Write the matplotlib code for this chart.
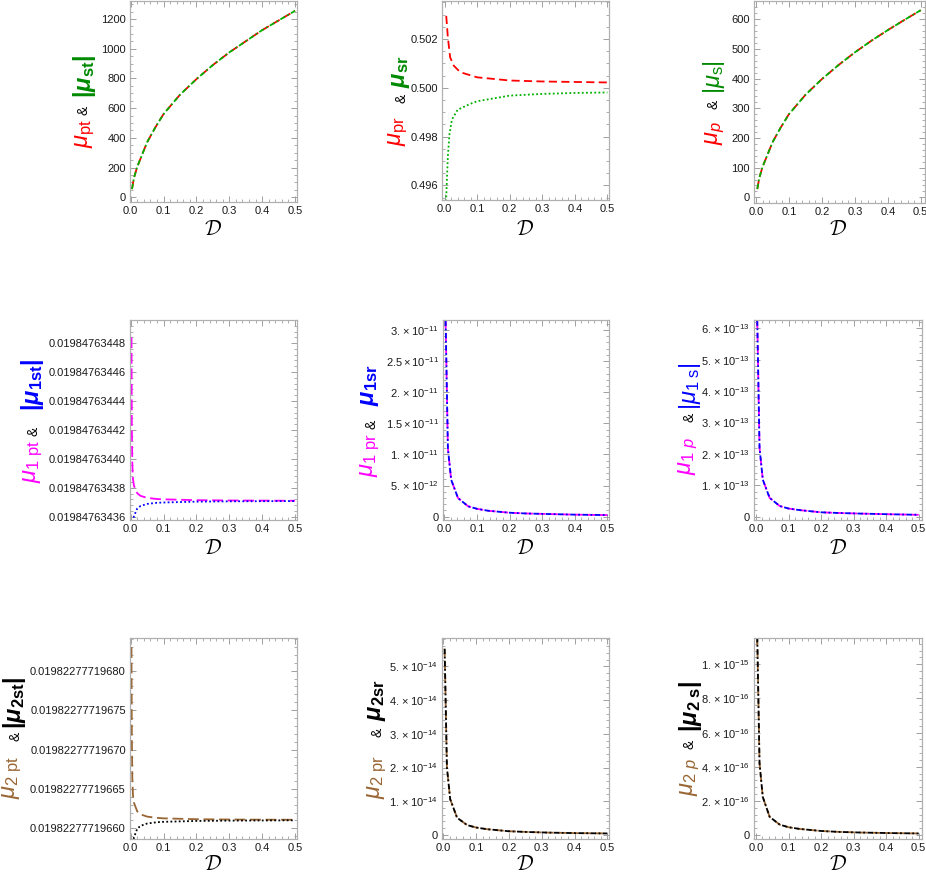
import matplotlib
matplotlib.use('Agg')
import matplotlib.pyplot as plt
from matplotlib.ticker import AutoMinorLocator, FixedLocator, FixedFormatter

plt.rcParams['font.family'] = ['Liberation Sans', 'DejaVu Sans']
plt.rcParams['mathtext.fontset'] = 'custom'
plt.rcParams['mathtext.rm'] = 'Liberation Sans'
plt.rcParams['mathtext.it'] = 'Liberation Sans:italic'
plt.rcParams['mathtext.bf'] = 'Liberation Sans:bold'
plt.rcParams['mathtext.bfit'] = 'Liberation Sans:italic:bold'

# ---------------- data ----------------
# Row 1
x_r1 = [0.004, 0.01, 0.02, 0.03, 0.05, 0.075, 0.1, 0.15, 0.2, 0.25, 0.3, 0.35, 0.4, 0.45, 0.5]
mu_pt = [55, 130, 205, 260, 370, 470, 560, 690, 795, 890, 975, 1050, 1125, 1190, 1255]
mu_st = [55, 130, 205, 260, 370, 470, 560, 690, 795, 890, 975, 1050, 1125, 1190, 1255]
mu_p = [28, 65, 103, 130, 185, 235, 280, 345, 398, 445, 488, 527, 563, 597, 630]
mu_s = [28, 65, 103, 130, 185, 235, 280, 345, 398, 445, 488, 527, 563, 597, 630]

x_pr = [0.005, 0.01, 0.017, 0.028, 0.048, 0.1, 0.2, 0.3, 0.4, 0.5]
mu_pr = [0.50295, 0.50207, 0.50125, 0.50091, 0.50064, 0.50043, 0.50030, 0.50026, 0.50024, 0.50022]
x_sr = [0.004, 0.005, 0.007, 0.01, 0.015, 0.0225, 0.04, 0.08, 0.1, 0.2, 0.3, 0.4, 0.5]
mu_sr = [0.4950, 0.4955, 0.4962, 0.4972, 0.4981, 0.4987, 0.4991, 0.49935, 0.49945, 0.49968,
         0.49975, 0.49979, 0.49981]

# Row 2 / row 3 left panels: offsets from a base value
base_1t = 0.019847634            # values = base + off * 1e-11
x_1pt = [0.0025, 0.0035, 0.005, 0.007, 0.01, 0.02, 0.03, 0.05, 0.08, 0.1, 0.2, 0.3, 0.4, 0.5]
off_1pt = [448.4, 442.3, 439.7, 438.6, 438.14, 437.62, 437.44, 437.30, 437.22, 437.20,
           437.14, 437.12, 437.11, 437.10]
x_1st = [0.004, 0.007, 0.01, 0.02, 0.03, 0.05, 0.08, 0.1, 0.2, 0.3, 0.4, 0.5]
off_1st = [434.5, 435.6, 436.04, 436.56, 436.74, 436.88, 436.96, 436.98, 437.04, 437.06,
           437.07, 437.08]
ticks_1t = [436, 438, 440, 442, 444, 446, 448]
labels_1t = ['0.01984763436', '0.01984763438', '0.01984763440', '0.01984763442',
             '0.01984763444', '0.01984763446', '0.01984763448']

base_2t = 0.019822777196         # values = base + off * 1e-14
x_2pt = [0.0025, 0.0035, 0.005, 0.007, 0.01, 0.02, 0.03, 0.05, 0.08, 0.1, 0.2, 0.3, 0.4, 0.5]
off_2pt = [683.0, 672.0, 666.5, 664.2, 663.25, 662.15, 661.78, 661.49, 661.33, 661.27,
           661.16, 661.12, 661.10, 661.09]
x_2st = [0.004, 0.007, 0.01, 0.02, 0.03, 0.05, 0.08, 0.1, 0.2, 0.3, 0.4, 0.5]
off_2st = [655.5, 657.9, 658.85, 659.95, 660.32, 660.61, 660.78, 660.83, 660.94, 660.98,
           661.00, 661.02]
ticks_2t = [660, 665, 670, 675, 680]
labels_2t = ['0.01982277719660', '0.01982277719665', '0.01982277719670',
             '0.01982277719675', '0.01982277719680']

# decaying panels
x_dec = [0.004, 0.011, 0.021, 0.042, 0.073, 0.1, 0.134, 0.2, 0.25, 0.318, 0.4, 0.5]
mu_1pr = [31.5e-12, 11.0e-12, 5.95e-12, 3.0e-12, 1.67e-12, 1.27e-12, 0.96e-12, 0.64e-12,
          0.52e-12, 0.43e-12, 0.33e-12, 0.26e-12]
mu_1sr = list(mu_1pr)
mu_1p = [6.25e-13, 2.19e-13, 1.18e-13, 0.60e-13, 0.34e-13, 0.26e-13, 0.21e-13, 0.14e-13,
         0.12e-13, 0.10e-13, 0.08e-13, 0.06e-13]
mu_1s = list(mu_1p)
mu_2pr = [5.52e-14, 2.0e-14, 1.06e-14, 0.51e-14, 0.29e-14, 0.22e-14, 0.17e-14, 0.11e-14,
          0.09e-14, 0.07e-14, 0.055e-14, 0.045e-14]
mu_2sr = list(mu_2pr)
mu_2p = [11.6e-16, 4.2e-16, 2.23e-16, 1.07e-16, 0.61e-16, 0.46e-16, 0.36e-16, 0.24e-16,
         0.19e-16, 0.15e-16, 0.12e-16, 0.095e-16]
mu_2s = list(mu_2p)

xticks = [0.0, 0.1, 0.2, 0.3, 0.4, 0.5]
xticklabels = ['0.0', '0.1', '0.2', '0.3', '0.4', '0.5']

RED = '#ff0000'
GREEN_L = '#00b000'
GREEN_T = '#008a00'
MAG = '#ff00ff'
BLUE = '#0000ff'
BROWN = '#996633'
BLACK = '#000000'

W, H = 926, 875
fig = plt.figure(figsize=(W / 100, H / 100), dpi=100)


def add_ax(l, r, t, b):
    return fig.add_axes([l / W, 1 - b / H, (r - l) / W, (b - t) / H])


def style(ax, xlim, ylim, yticks, ylabels, yminor):
    ax.set_xlim(*xlim)
    ax.set_ylim(*ylim)
    ax.xaxis.set_major_locator(FixedLocator(xticks))
    ax.xaxis.set_major_formatter(FixedFormatter(xticklabels))
    ax.xaxis.set_minor_locator(AutoMinorLocator(5))
    ax.yaxis.set_major_locator(FixedLocator(yticks))
    ax.yaxis.set_major_formatter(FixedFormatter(ylabels))
    ax.yaxis.set_minor_locator(AutoMinorLocator(yminor))
    ax.tick_params(which='both', direction='in', top=True, right=True,
                   color='#a0a0a0', labelsize=8, labelcolor='#1a1a1a', pad=3)
    ax.tick_params(which='major', length=4, width=0.7)
    ax.tick_params(which='minor', length=2, width=0.6)
    for s in ax.spines.values():
        s.set_color('#b0b0b0')
        s.set_linewidth(0.9)


def xlab(x, y):
    fig.text(x / W, 1 - y / H, r'$\mathcal{D}$', ha='center', va='center',
             fontsize=15, math_fontfamily='cm')


def ylab(parts):
    for txt, col, x, y, fs in parts:
        fig.text(x / W, 1 - y / H, txt, color=col, rotation=90, ha='center',
                 va='center', fontsize=fs)


FS = 17
FA = 10
LW = 1.3
dash_long = (4.5, 2.4)
dots = (1.0, 1.3)
dashdot = (3.0, 1.4, 1.0, 1.4)

# ---- Panel 1 ----
ax = add_ax(130, 297, 1, 202)
ax.plot(x_r1, mu_pt, color=RED, lw=LW, dashes=dash_long)
ax.plot(x_r1, mu_st, color=GREEN_L, lw=LW, dashes=dashdot)
style(ax, (-0.002, 0.506), (-32, 1321), [0, 200, 400, 600, 800, 1000, 1200],
      ['0', '200', '400', '600', '800', '1000', '1200'], 4)
xlab(213, 229)
ylab([(r'$\mu_{\mathrm{pt}}$', RED, 85, 133, FS),
      ('&', BLACK, 84, 110, FA),
      (r'$\mathbf{|}\mathbfit{\mu}_{\mathbf{st}}\mathbf{|}$', GREEN_T, 85, 76, FS)])

# ---- Panel 2 ----
ax = add_ax(442, 609, 1, 200)
ax.plot(x_pr, mu_pr, color=RED, lw=LW, dashes=dash_long)
ax.plot(x_sr, mu_sr, color=GREEN_L, lw=LW, dashes=dots)
style(ax, (-0.008, 0.505), (0.4954, 0.50356), [0.496, 0.498, 0.500, 0.502],
      ['0.496', '0.498', '0.500', '0.502'], 4)
xlab(525, 229)
ylab([(r'$\mu_{\mathrm{pr}}$', RED, 398, 131, FS),
      ('&', BLACK, 402, 98, FA),
      (r'$\mathbfit{\mu}_{\mathbf{sr}}$', GREEN_T, 401, 72, FS)])

# ---- Panel 3 ----
ax = add_ax(754, 925, 1, 203)
ax.plot(x_r1, mu_p, color=RED, lw=LW, dashes=dash_long)
ax.plot(x_r1, mu_s, color=GREEN_L, lw=LW, dashes=dashdot)
style(ax, (-0.006, 0.513), (-19, 661), [0, 100, 200, 300, 400, 500, 600],
      ['0', '100', '200', '300', '400', '500', '600'], 5)
xlab(838, 229)
ylab([(r'$\mu_p$', RED, 715, 133, FS),
      ('&', BLACK, 714, 104, FA),
      (r'$|\mu_{\mathrm{s}}|$', GREEN_T, 714, 77, FS)])

# ---- Panel 4 ----
ax = add_ax(130, 297, 320, 520)
ax.plot(x_1pt, [base_1t + v * 1e-11 for v in off_1pt], color=MAG, lw=LW, dashes=(6, 2.6))
ax.plot(x_1st, [base_1t + v * 1e-11 for v in off_1st], color=BLUE, lw=LW, dashes=dots)
style(ax, (-0.002, 0.506), (base_1t + 435.77e-11, base_1t + 449.6e-11),
      [base_1t + v * 1e-11 for v in ticks_1t], labels_1t, 5)
xlab(213, 548)
ylab([(r'$\mu_{1\ \mathrm{pt}}$', MAG, 33, 462, FS),
      ('&', BLACK, 33, 431, FA),
      (r'$\mathbf{|}\mathbfit{\mu}_{\mathbf{1st}}\mathbf{|}$', BLUE, 33, 385, FS)])

# ---- Panel 5 ----
ax = add_ax(443, 609, 320, 520)
ax.plot(x_dec, mu_1pr, color=MAG, lw=LW, dashes=dash_long)
ax.plot(x_dec, mu_1sr, color=BLUE, lw=LW, dashes=dashdot)
style(ax, (-0.004, 0.505), (-0.053e-11, 3.16e-11),
      [0, 0.5e-11, 1e-11, 1.5e-11, 2e-11, 2.5e-11, 3e-11],
      ['0', r'$5.\times10^{-12}$', r'$1.\times10^{-11}$', r'$1.5\times10^{-11}$',
       r'$2.\times10^{-11}$', r'$2.5\times10^{-11}$', r'$3.\times10^{-11}$'], 5)
xlab(525, 548)
ylab([(r'$\mu_{1\ \mathrm{pr}}$', MAG, 370, 455, FS),
      ('&', BLACK, 371, 424, FA),
      (r'$\mathbfit{\mu}_{\mathbf{1sr}}$', BLUE, 370, 385, FS)])

# ---- Panel 6 ----
ax = add_ax(754, 922, 320, 520)
ax.plot(x_dec, mu_1p, color=MAG, lw=LW, dashes=dash_long)
ax.plot(x_dec, mu_1s, color=BLUE, lw=LW, dashes=dashdot)
style(ax, (-0.006, 0.510), (-0.105e-13, 6.264e-13),
      [0, 1e-13, 2e-13, 3e-13, 4e-13, 5e-13, 6e-13],
      ['0', r'$1.\times10^{-13}$', r'$2.\times10^{-13}$', r'$3.\times10^{-13}$',
       r'$4.\times10^{-13}$', r'$5.\times10^{-13}$', r'$6.\times10^{-13}$'], 5)
xlab(838, 548)
ylab([(r'$\mu_{1\ p}$', MAG, 688, 456, FS),
      ('&', BLACK, 690, 417, FA),
      (r'$|\mu_{1\ \mathrm{s}}|$', BLUE, 690, 386, FS)])

# ---- Panel 7 ----
ax = add_ax(130, 297, 638, 839)
ax.plot(x_2pt, [base_2t + v * 1e-14 for v in off_2pt], color=BROWN, lw=LW, dashes=(6, 2.6))
ax.plot(x_2st, [base_2t + v * 1e-14 for v in off_2st], color=BLACK, lw=LW, dashes=dots)
style(ax, (-0.002, 0.506), (base_2t + 658.65e-14, base_2t + 684.15e-14),
      [base_2t + v * 1e-14 for v in ticks_2t], labels_2t, 5)
xlab(213, 864)
ylab([(r'$\mu_{2\ \mathrm{pt}}$', BROWN, 12, 778, FS),
      ('&', BLACK, 15, 736, FA),
      (r'$\mathbf{|}\mathbfit{\mu}_{\mathbf{2st}}\mathbf{|}$', BLACK, 15, 703, FS)])

# ---- Panel 8 ----
ax = add_ax(442, 609, 638, 839)
ax.plot(x_dec, mu_2pr, color=BROWN, lw=LW, dashes=dash_long)
ax.plot(x_dec, mu_2sr, color=BLACK, lw=LW, dashes=dashdot)
style(ax, (-0.004, 0.505), (-0.12e-14, 5.84e-14),
      [0, 1e-14, 2e-14, 3e-14, 4e-14, 5e-14],
      ['0', r'$1.\times10^{-14}$', r'$2.\times10^{-14}$', r'$3.\times10^{-14}$',
       r'$4.\times10^{-14}$', r'$5.\times10^{-14}$'], 5)
xlab(525, 864)
ylab([(r'$\mu_{2\ \mathrm{pr}}$', BROWN, 377, 777, FS),
      ('&', BLACK, 378, 732, FA),
      (r'$\mathbfit{\mu}_{\mathbf{2sr}}$', BLACK, 377, 700, FS)])

# ---- Panel 9 ----
ax = add_ax(754, 922, 638, 839)
ax.plot(x_dec, mu_2p, color=BROWN, lw=LW, dashes=dash_long)
ax.plot(x_dec, mu_2s, color=BLACK, lw=LW, dashes=dashdot)
style(ax, (-0.006, 0.510), (-0.023e-15, 1.154e-15),
      [0, 2e-16, 4e-16, 6e-16, 8e-16, 1e-15],
      ['0', r'$2.\times10^{-16}$', r'$4.\times10^{-16}$', r'$6.\times10^{-16}$',
       r'$8.\times10^{-16}$', r'$1.\times10^{-15}$'], 5)
xlab(838, 864)
ylab([(r'$\mu_{2\ p}$', BROWN, 690, 777, FS),
      ('&', BLACK, 690, 744, FA),
      (r'$\mathbf{|}\mathbfit{\mu}_{\mathbf{2\ s}}\mathbf{|}$', BLACK, 690, 706, FS)])

fig.savefig('out.png', dpi=100)
